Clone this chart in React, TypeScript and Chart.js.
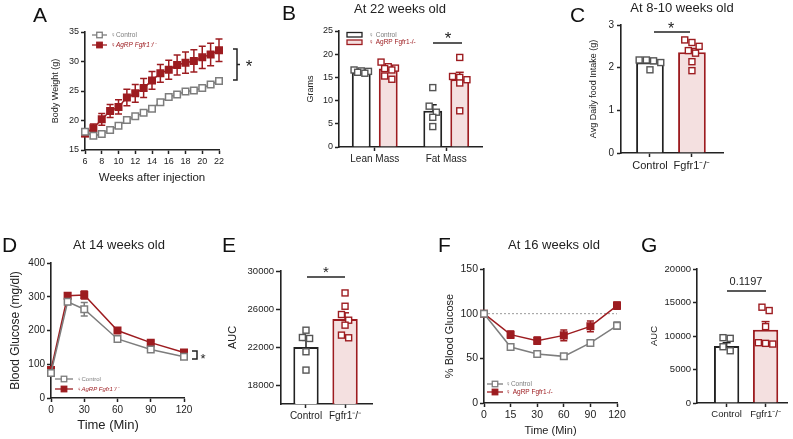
import React, { useEffect, useRef } from "react";
import { Chart, registerables } from "chart.js";

Chart.register(...registerables);

const PAGE_W = 793;
const PAGE_H = 439;
const FONT = "'Liberation Sans', Arial, Helvetica, sans-serif";
const INK = "#222222";
const RED = "#9d1c20";
const GRAY = "#7d7d7d";
const PINK = "#f4e0e0";
const DOT_GRAY = "#555555";
const MARK = 6;

Chart.defaults.font.family = FONT;

// ---------------- Panel A : body weight ----------------
const weeksA = [6, 7, 8, 9, 10, 11, 12, 13, 14, 15, 16, 17, 18, 19, 20, 21, 22];
const controlA = [18.1, 17.4, 17.7, 18.4, 19.1, 20.1, 20.7, 21.3, 22.0, 23.1, 24.0, 24.4, 24.9, 25.1, 25.5, 26.1, 26.7];
const controlAErr = [0.3, 0.2, 0.2, 0.2, 0.2, 0.2, 0.2, 0.2, 0.2, 0.2, 0.2, 0.2, 0.2, 0.2, 0.2, 0.3, 0.3];
const koA = [17.8, 18.7, 20.2, 21.6, 22.3, 23.9, 24.6, 25.5, 26.8, 28.0, 28.6, 29.4, 29.8, 30.1, 30.7, 31.2, 31.9];
const koAErr = [0.5, 0.7, 1.0, 1.1, 1.2, 1.4, 1.5, 1.6, 1.5, 1.5, 1.6, 1.7, 1.8, 1.9, 1.9, 1.9, 1.9];
const xTicksA = [6, 8, 10, 12, 14, 16, 18, 20, 22];
const yTicksA = [15, 20, 25, 30, 35];

// ---------------- Panel B : body composition ----------------
const categoriesB = ["Lean Mass", "Fat Mass"];
const controlB = [16.1, 7.8];
const controlBErr = [0.15, 1.3];
const koB = [16.9, 14.6];
const koBErr = [0.5, 1.5];
const controlBPoints = [[16.6, 16.4, 16.1, 16.3, 15.9], [12.8, 8.8, 7.5, 6.4, 4.4]];
const koBPoints = [[18.3, 17.3, 17.0, 16.9, 16.6, 15.3, 14.6], [19.3, 15.2, 15.0, 14.5, 13.8, 7.8]];
const yTicksB = [0, 5, 10, 15, 20, 25];

// ---------------- Panel C : food intake ----------------
const groupsC = ["Control", "Fgfr1\u207B/\u207B"];
const controlC = 2.12;
const controlCErr = 0.04;
const koC = 2.36;
const koCErr = 0.09;
const controlCPoints = [2.18, 2.16, 2.18, 2.12, 1.95];
const koCPoints = [2.65, 2.59, 2.5, 2.4, 2.34, 2.14, 1.93];
const yTicksC = [0, 1, 2, 3];

// ---------------- Panel D : GTT ----------------
const timesD = [0, 15, 30, 60, 90, 120];
const controlD = [74, 285, 263, 175, 144, 122];
const controlDErr = [5, 8, 20, 5, 5, 6];
const koD = [83, 303, 305, 200, 164, 135];
const koDErr = [8, 8, 12, 5, 5, 5];
const xTicksD = [0, 30, 60, 90, 120];
const yTicksD = [0, 100, 200, 300, 400];

// ---------------- Panel E : GTT AUC ----------------
const groupsE = ["Control", "Fgfr1\u207B/\u207B"];
const controlE = 22000;
const controlEErr = 700;
const koE = 24950;
const koEErr = 650;
const controlEPoints = [23770, 22900, 23000, 21500, 19570];
const koEPoints = [27690, 26290, 25420, 24820, 24300, 23250, 22970];
const yMinE = 16000;
const yMaxE = 30000;
const yTicksE = [18000, 22000, 26000, 30000];

// ---------------- Panel F : ITT ----------------
const timesF = ["0", "15", "30", "60", "90", "120"];
const controlF = [100, 62.7, 54.9, 52.2, 67.2, 86.6];
const controlFErr = [0, 2, 2, 3, 3, 4];
const koF = [100, 76.5, 69.8, 75.7, 85.8, 109];
const koFErr = [0, 4, 4, 6, 6, 4];
const yTicksF = [0, 50, 100, 150];
const refF = 100;

// ---------------- Panel G : ITT AUC ----------------
const groupsG = ["Control", "Fgfr1\u207B/\u207B"];
const controlG = 8500;
const controlGErr = 500;
const koG = 10950;
const koGErr = 1200;
const controlGPoints = [9650, 9750, 8400, 7800];
const koGPoints = [14300, 13800, 11400, 9000, 8900, 8800];
const yTicksG = [0, 5000, 10000, 15000, 20000];
const pValueG = "0.1197";

// ================= helpers =================
type Area = { l: number; t: number; r: number; b: number };

function padFor(a: Area, yW: number, xH: number) {
  return { left: a.l - yW, top: a.t, right: PAGE_W - a.r, bottom: PAGE_H - a.b - xH };
}

function makeScale(o: any) {
  const s: any = {
    type: o.type,
    min: o.min,
    max: o.max,
    offset: false,
    grid: {
      display: true, drawOnChartArea: false, drawTicks: true, tickLength: o.tickLen ?? 4,
      tickWidth: 1.5, tickColor: INK, color: INK, offset: false,
    },
    border: { display: true, color: INK, width: 1.6 },
    ticks: {
      color: INK, font: { family: FONT, size: o.size }, padding: o.tickPad ?? 2,
      autoSkip: false, maxRotation: 0, minRotation: 0,
    },
    afterFit: (sc: any) => {
      if (o.horizontal) sc.height = o.fit;
      else sc.width = o.fit;
    },
  };
  if (o.ticks) {
    const vals: number[] = o.ticks;
    s.afterBuildTicks = (sc: any) => {
      sc.ticks = vals.map((v) => ({ value: v }));
    };
  }
  if (o.labels) {
    const labs: string[] = o.labels;
    s.ticks.callback = (v: number) => labs[Math.round(v)] ?? "";
  } else if (o.type !== "category") {
    s.ticks.callback = (v: number) => String(v);
  }
  if (o.title) {
    s.title = { display: true, text: o.title, color: INK, font: { family: FONT, size: o.titleSize ?? 11 }, padding: 0 };
  }
  return s;
}

function baseOptions(area: Area, yW: number, xH: number, x: any, y: any) {
  return {
    responsive: false,
    maintainAspectRatio: false,
    animation: false,
    events: [],
    layout: { padding: padFor(area, yW, xH) },
    plugins: { legend: { display: false }, tooltip: { enabled: false }, title: { display: false } },
    scales: { x, y },
  };
}

function txt(ctx: any, s: string, x: number, y: number, size: number, o: any = {}) {
  ctx.save();
  ctx.font = `${o.italic ? "italic " : ""}${o.bold ? "bold " : ""}${size}px ${FONT}`;
  ctx.fillStyle = o.color ?? INK;
  ctx.textAlign = o.align ?? "center";
  ctx.textBaseline = o.baseline ?? "middle";
  ctx.translate(x, y);
  if (o.rotate) ctx.rotate(o.rotate);
  ctx.fillText(s, 0, 0);
  ctx.restore();
}

function seg(ctx: any, pts: number[][], color = INK, w = 1.5, dash: number[] = []) {
  ctx.save();
  ctx.strokeStyle = color;
  ctx.lineWidth = w;
  ctx.setLineDash(dash);
  ctx.beginPath();
  pts.forEach((p, i) => (i ? ctx.lineTo(p[0], p[1]) : ctx.moveTo(p[0], p[1])));
  ctx.stroke();
  ctx.restore();
}

function star(ctx: any, x: number, cy: number, size: number) {
  txt(ctx, "*", x, cy + size * 0.55, size, { baseline: "alphabetic" });
}

function letter(ctx: any, s: string, x: number, base: number) {
  txt(ctx, s, x, base, 21, { align: "left", baseline: "alphabetic", color: "#111" });
}

function square(ctx: any, x: number, y: number, s: number, stroke: string, fill: string, lw: number) {
  ctx.save();
  ctx.fillStyle = fill;
  ctx.fillRect(x - s / 2, y - s / 2, s, s);
  ctx.strokeStyle = stroke;
  ctx.lineWidth = lw;
  ctx.strokeRect(x - s / 2, y - s / 2, s, s);
  ctx.restore();
}

function legendLine(ctx: any, x1: number, x2: number, y: number, color: string, filled: boolean, label: string, tx: number, size: number, italic = false) {
  seg(ctx, [[x1, y], [x2, y]], color, 1.3);
  square(ctx, (x1 + x2) / 2, y, 5.5, color, filled ? color : "#fff", 1.3);
  txt(ctx, label, tx, y, size, { align: "left", color, italic });
}

function legendBox(ctx: any, x: number, y: number, w: number, h: number, stroke: string, fill: string, label: string, tx: number, size: number, color: string) {
  ctx.save();
  ctx.fillStyle = fill;
  ctx.fillRect(x, y, w, h);
  ctx.strokeStyle = stroke;
  ctx.lineWidth = 1.3;
  ctx.strokeRect(x, y, w, h);
  ctx.restore();
  txt(ctx, label, tx, y + h / 2, size, { align: "left", color });
}

function notes(fn: (ctx: any, chart: any) => void) {
  return {
    id: "notes",
    afterDraw(chart: any) {
      const ctx = chart.ctx;
      ctx.save();
      fn(ctx, chart);
      ctx.restore();
    },
  };
}

// vertical error bars for line charts
const lineErrorBars = {
  id: "lineErrorBars",
  beforeDatasetsDraw(chart: any) {
    const ctx = chart.ctx;
    const yS = chart.scales.y;
    chart.data.datasets.forEach((ds: any, di: number) => {
      if (!ds.errors) return;
      const meta = chart.getDatasetMeta(di);
      ctx.save();
      ctx.strokeStyle = ds.borderColor;
      ctx.lineWidth = 1.5;
      meta.data.forEach((el: any, j: number) => {
        const raw = ds.data[j];
        const v = typeof raw === "number" ? raw : raw.y;
        const e = ds.errors[j];
        if (!e) return;
        const y1 = yS.getPixelForValue(v + e);
        const y2 = yS.getPixelForValue(v - e);
        const x = el.x;
        const cw = 3.5;
        ctx.beginPath();
        ctx.moveTo(x, y1);
        ctx.lineTo(x, y2);
        ctx.moveTo(x - cw, y1);
        ctx.lineTo(x + cw, y1);
        ctx.moveTo(x - cw, y2);
        ctx.lineTo(x + cw, y2);
        ctx.stroke();
      });
      ctx.restore();
    });
  },
};

// symmetric rows of points (beeswarm-like), limited by the bar width
function swarm(ys: number[], step: number, maxPerRow: number): number[] {
  const idx = ys.map((_, i) => i).sort((a, b) => ys[a] - ys[b]);
  const out = new Array(ys.length).fill(0);
  let row: number[] = [];
  const flush = () => {
    row.forEach((i, k) => {
      out[i] = (k - (row.length - 1) / 2) * step;
    });
    row = [];
  };
  for (const i of idx) {
    if (row.length && (ys[i] - ys[row[0]] >= step || row.length >= maxPerRow)) flush();
    row.push(i);
  }
  flush();
  return out;
}

// error bars (upwards) + individual points for bar charts
const barExtras = {
  id: "barExtras",
  afterDatasetsDraw(chart: any) {
    const ctx = chart.ctx;
    const yS = chart.scales.y;
    chart.data.datasets.forEach((ds: any, di: number) => {
      const meta = chart.getDatasetMeta(di);
      meta.data.forEach((bar: any, j: number) => {
        const v = ds.data[j].y;
        const e = ds.errors ? ds.errors[j] : 0;
        const x = bar.x;
        const yt = yS.getPixelForValue(v + e);
        const ym = yS.getPixelForValue(v);
        seg(ctx, [[x, ym], [x, yt]], ds.borderColor, 1.5);
        seg(ctx, [[x - 4, yt], [x + 4, yt]], ds.borderColor, 1.5);
        const vals: number[] = ds.points ? ds.points[j] : [];
        const ys = vals.map((p) => yS.getPixelForValue(p));
        const step = MARK + 1.2;
        const perRow = Math.max(2, Math.floor((bar.width + 6) / step));
        const xs = swarm(ys, step, perRow);
        ys.forEach((y, k) => square(ctx, x + xs[k], y, MARK, ds.pointColor, "#fff", 1.4));
      });
    });
  },
};

function lineSet(label: string, xs: number[] | null, ys: number[], errs: number[], color: string, filled: boolean) {
  return {
    label,
    data: xs ? xs.map((x, i) => ({ x, y: ys[i] })) : ys,
    errors: errs,
    borderColor: color,
    backgroundColor: filled ? color : "#fff",
    pointBackgroundColor: filled ? color : "#fff",
    pointBorderColor: color,
    pointStyle: "rect",
    pointRadius: 4.6,
    pointBorderWidth: 1.5,
    borderWidth: 1.5,
    clip: false,
    tension: 0,
    fill: false,
  };
}

function barSet(label: string, xs: number[], ys: number[], errs: number[], pts: number[][], ko: boolean, extra: any = {}) {
  return {
    label,
    data: xs.map((x, i) => ({ x, y: ys[i] })),
    errors: errs,
    points: pts,
    backgroundColor: ko ? PINK : "#ffffff",
    borderColor: ko ? RED : INK,
    pointColor: ko ? RED : DOT_GRAY,
    borderWidth: 2,
    borderSkipped: "start",
    ...extra,
  };
}

// ================= chart configs =================
function configA() {
  const area = { l: 85, t: 32, r: 219, b: 150 };
  return {
    type: "line",
    data: {
      datasets: [
        lineSet("\u2640Control", weeksA, controlA, controlAErr, GRAY, false),
        lineSet("\u2640AgRP Fgfr1-/-", weeksA, koA, koAErr, RED, true),
      ],
    },
    options: baseOptions(
      area, 35, 35,
      makeScale({ type: "linear", min: 6, max: 22, ticks: xTicksA, size: 9, horizontal: true, fit: 35, title: "Weeks after injection", titleSize: 11.5 }),
      makeScale({ type: "linear", min: 15, max: 35, ticks: yTicksA, size: 9, horizontal: false, fit: 35, title: "Body Weight (g)", titleSize: 9 })
    ),
    plugins: [
      lineErrorBars,
      notes((ctx) => {
        letter(ctx, "A", 33, 22);
        legendLine(ctx, 92, 107, 35, GRAY, false, "\u2640Control", 111, 6.5);
        legendLine(ctx, 92, 107, 45, RED, true, "\u2640AgRP Fgfr1\u207B/\u207B", 111, 6.5, true);
        seg(ctx, [[233, 49], [237, 49], [237, 80], [233, 80]]);
        seg(ctx, [[237, 64.5], [240, 64.5]]);
        star(ctx, 249, 63, 17);
      }),
    ],
  };
}

function configB() {
  const area = { l: 339, t: 31, r: 482, b: 147 };
  const xs = categoriesB.map((_, i) => i);
  const opt = { categoryPercentage: 0.755, barPercentage: 0.7 };
  return {
    type: "bar",
    data: {
      datasets: [
        barSet("Control", xs, controlB, controlBErr, controlBPoints, false, opt),
        barSet("AgRP Fgfr1-/-", xs, koB, koBErr, koBPoints, true, opt),
      ],
    },
    options: baseOptions(
      area, 34, 20,
      makeScale({ type: "linear", min: -0.5, max: 1.5, ticks: xs, labels: categoriesB, size: 10, horizontal: true, fit: 20 }),
      makeScale({ type: "linear", min: 0, max: 25, ticks: yTicksB, size: 9, horizontal: false, fit: 34, title: "Grams", titleSize: 9 })
    ),
    plugins: [
      barExtras,
      notes((ctx) => {
        letter(ctx, "B", 282, 20);
        txt(ctx, "At 22 weeks old", 400, 9, 13);
        legendBox(ctx, 347, 32.5, 15, 4.5, INK, "#fff", "\u2640 Control", 369, 6.5, GRAY);
        legendBox(ctx, 347, 40, 15, 4.5, RED, PINK, "\u2640 AgRP Fgfr1-/-", 369, 6.5, RED);
        seg(ctx, [[433, 43], [462, 43]]);
        star(ctx, 448, 35, 17);
      }),
    ],
  };
}

function singleBarConfig(o: any) {
  const opt = { categoryPercentage: o.cp, barPercentage: 1, grouped: false, base: o.base };
  return {
    type: "bar",
    data: {
      datasets: [
        barSet(o.groups[0], [0], [o.c], [o.cErr], [o.cPts], false, opt),
        barSet(o.groups[1], [1], [o.k], [o.kErr], [o.kPts], true, opt),
      ],
    },
    options: baseOptions(
      o.area, o.yW, 20,
      makeScale({ type: "linear", min: o.xMin, max: o.xMax, ticks: [0, 1], labels: o.groups, size: o.xSize, horizontal: true, fit: 20 }),
      makeScale({ type: "linear", min: o.yMin, max: o.yMax, ticks: o.yTicks, size: o.ySize, horizontal: false, fit: o.yW, title: o.yTitle, titleSize: o.yTitleSize, tickLen: o.tickLen, tickPad: o.tickPad })
    ),
    plugins: [barExtras, notes(o.notes)],
  };
}

function configC() {
  return singleBarConfig({
    area: { l: 621, t: 25, r: 723, b: 153 }, yW: 33, cp: 0.66, base: 0,
    groups: groupsC, c: controlC, cErr: controlCErr, cPts: controlCPoints, k: koC, kErr: koCErr, kPts: koCPoints,
    xMin: -0.69, xMax: 1.74, xSize: 11, yMin: 0, yMax: 3, yTicks: yTicksC, ySize: 10,
    yTitle: "Avg Daily food Intake (g)", yTitleSize: 9, tickPad: 3,
    notes: (ctx: any) => {
      letter(ctx, "C", 570, 22);
      txt(ctx, "At 8-10 weeks old", 682, 8, 13);
      seg(ctx, [[654, 32], [690, 32]]);
      star(ctx, 671, 25, 16);
    },
  });
}

function configD() {
  const area = { l: 51, t: 263, r: 184, b: 398 };
  return {
    type: "line",
    data: {
      datasets: [
        lineSet("\u2640Control", timesD, controlD, controlDErr, GRAY, false),
        lineSet("\u2640AgRP Fgfr1-/-", timesD, koD, koDErr, RED, true),
      ],
    },
    options: baseOptions(
      area, 43, 20,
      makeScale({ type: "linear", min: 0, max: 120, ticks: xTicksD, size: 10, horizontal: true, fit: 20 }),
      makeScale({ type: "linear", min: 0, max: 400, ticks: yTicksD, size: 10, horizontal: false, fit: 43, title: "Blood Glucose (mg/dl)", titleSize: 12 })
    ),
    plugins: [
      lineErrorBars,
      notes((ctx) => {
        letter(ctx, "D", 2, 252);
        txt(ctx, "At 14 weeks old", 119, 245, 13);
        txt(ctx, "Time (Min)", 108, 425, 13);
        legendLine(ctx, 55, 73, 379, GRAY, false, "\u2640Control", 77, 6);
        legendLine(ctx, 55, 73, 389, RED, true, "\u2640AgRP Fgfr1\u207B/\u207B", 77, 6, true);
        seg(ctx, [[192, 351], [197, 351], [197, 359], [192, 359]]);
        star(ctx, 203, 356, 13);
      }),
    ],
  };
}

function configE() {
  return singleBarConfig({
    area: { l: 281, t: 271, r: 372, b: 404 }, yW: 55, cp: 0.65, base: yMinE,
    groups: groupsE, c: controlE, cErr: controlEErr, cPts: controlEPoints, k: koE, kErr: koEErr, kPts: koEPoints,
    xMin: -0.64, xMax: 1.69, xSize: 10, yMin: yMinE, yMax: yMaxE, yTicks: yTicksE, ySize: 9.5,
    yTitle: "AUC", yTitleSize: 11, tickLen: 5,
    notes: (ctx: any) => {
      letter(ctx, "E", 222, 252);
      seg(ctx, [[307, 277], [345, 277]]);
      star(ctx, 326, 269, 15);
    },
  });
}

function configF() {
  const area = { l: 484, t: 269, r: 617, b: 403 };
  const refLine = {
    id: "refLine",
    beforeDatasetsDraw(chart: any) {
      const y = chart.scales.y.getPixelForValue(refF);
      const a = chart.chartArea;
      seg(chart.ctx, [[a.left, y], [a.right, y]], "#9a9a9a", 1, [2, 2]);
    },
  };
  return {
    type: "line",
    data: {
      labels: timesF,
      datasets: [
        lineSet("\u2640Control", null, controlF, controlFErr, GRAY, false),
        lineSet("\u2640 AgRP Fgfr1-/-", null, koF, koFErr, RED, true),
      ],
    },
    options: baseOptions(
      area, 41, 35,
      makeScale({ type: "category", size: 10.5, horizontal: true, fit: 35, title: "Time (Min)", titleSize: 11 }),
      makeScale({ type: "linear", min: 0, max: 150, ticks: yTicksF, size: 10.5, horizontal: false, fit: 41, title: "% Blood Glucose", titleSize: 11 })
    ),
    plugins: [
      refLine,
      lineErrorBars,
      notes((ctx) => {
        letter(ctx, "F", 438, 252);
        txt(ctx, "At 16 weeks old", 554, 245, 13);
        legendLine(ctx, 487, 503, 384, GRAY, false, "\u2640Control", 506, 6.5);
        legendLine(ctx, 487, 503, 392, RED, true, "\u2640 AgRP Fgfr1-/-", 506, 6.5);
      }),
    ],
  };
}

function configG() {
  return singleBarConfig({
    area: { l: 697, t: 269, r: 787, b: 403 }, yW: 48, cp: 0.65, base: 0,
    groups: groupsG, c: controlG, cErr: controlGErr, cPts: controlGPoints, k: koG, kErr: koGErr, kPts: koGPoints,
    xMin: -0.76, xMax: 1.55, xSize: 9.5, yMin: 0, yMax: 20000, yTicks: yTicksG, ySize: 9.5,
    yTitle: "AUC", yTitleSize: 9.5,
    notes: (ctx: any) => {
      letter(ctx, "G", 641, 252);
      txt(ctx, pValueG, 746, 282, 11);
      seg(ctx, [[727, 291], [766, 291]]);
    },
  });
}

function ChartCanvas({ make }: { make: () => any }) {
  const ref = useRef<HTMLCanvasElement>(null);
  useEffect(() => {
    const chart = new Chart(ref.current as HTMLCanvasElement, make());
    return () => chart.destroy();
  }, []);
  return (
    <canvas
      ref={ref}
      width={PAGE_W}
      height={PAGE_H}
      style={{ position: "absolute", left: 0, top: 0, width: PAGE_W, height: PAGE_H }}
    />
  );
}

const makers = [configA, configB, configC, configD, configE, configF, configG];

export default function App() {
  return (
    <div
      style={{
        position: "fixed", left: 0, top: 0, width: PAGE_W, height: PAGE_H,
        background: "#ffffff", overflow: "hidden",
      }}
    >
      {makers.map((m, i) => (
        <ChartCanvas key={i} make={m} />
      ))}
    </div>
  );
}
